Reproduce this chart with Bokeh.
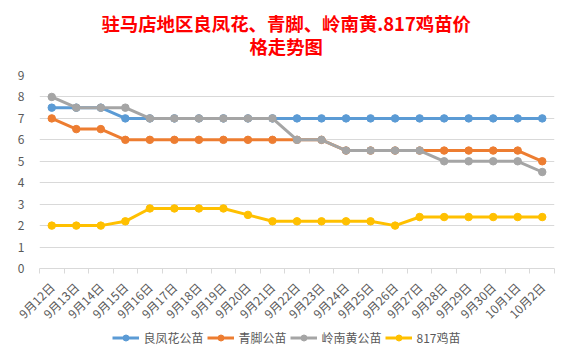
from math import pi
from bokeh.plotting import figure
from bokeh.layouts import column
from bokeh.models import FixedTicker, Legend, LegendItem, Range1d, Label
from bokeh.embed import file_html
from bokeh.resources import INLINE

# ---- data ----
dates = ["9月12日", "9月13日", "9月14日", "9月15日", "9月16日", "9月17日", "9月18日",
         "9月19日", "9月20日", "9月21日", "9月22日", "9月23日", "9月24日", "9月25日",
         "9月26日", "9月27日", "9月28日", "9月29日", "9月30日", "10月1日", "10月2日"]
liangfenghua = [7.5, 7.5, 7.5, 7, 7, 7, 7, 7, 7, 7, 7, 7, 7, 7, 7, 7, 7, 7, 7, 7, 7]
qingjiao = [7, 6.5, 6.5, 6, 6, 6, 6, 6, 6, 6, 6, 6, 5.5, 5.5, 5.5, 5.5, 5.5, 5.5, 5.5, 5.5, 5]
lingnanhuang = [8, 7.5, 7.5, 7.5, 7, 7, 7, 7, 7, 7, 6, 6, 5.5, 5.5, 5.5, 5.5, 5, 5, 5, 5, 4.5]
chick817 = [2, 2, 2, 2.2, 2.8, 2.8, 2.8, 2.8, 2.5, 2.2, 2.2, 2.2, 2.2, 2.2, 2, 2.4, 2.4, 2.4, 2.4, 2.4, 2.4]
series_names = ["良凤花公苗", "青脚公苗", "岭南黄公苗", "817鸡苗"]
series_colors = ["#5B9BD5", "#ED7D31", "#A5A5A5", "#FFC000"]
y_ticks = [0, 1, 2, 3, 4, 5, 6, 7, 8, 9]
title_lines = ["驻马店地区良凤花、青脚、岭南黄.817鸡苗价", "格走势图"]

x = list(range(len(dates)))
all_series = [liangfenghua, qingjiao, lingnanhuang, chick817]
FONT = "Noto Sans CJK SC"
GRAY_TXT = "#595959"
GRID = "#D9D9D9"
W = 572
LEFT, RIGHT = 39, 18


def strip(height, xr, yr):
    f = figure(width=W, height=height, output_backend="svg", toolbar_location=None,
               x_range=xr, y_range=yr, min_border_left=LEFT, min_border_right=RIGHT,
               min_border_top=0, min_border_bottom=0)
    f.axis.visible = False
    f.grid.visible = False
    f.outline_line_color = None
    f.border_fill_color = "white"
    f.background_fill_color = "white"
    f.title.visible = False
    return f

# ---- title strip (pixel-mapped ranges) ----
p0 = strip(67, Range1d(LEFT, W - RIGHT), Range1d(0, 67))
for txt, yc in zip(title_lines, [44.5, 22.0]):
    p0.add_layout(Label(x=285.7, y=yc, text=txt, text_align="center",
                        text_baseline="middle", text_font=FONT,
                        text_font_style="bold", text_font_size="18.4px",
                        text_color="#FF0000"))

# ---- main chart ----
p = figure(width=W, height=263, output_backend="svg", toolbar_location=None,
           x_range=Range1d(-0.5, len(dates) - 0.5), y_range=Range1d(0, 9),
           min_border_left=LEFT, min_border_right=RIGHT, min_border_top=8,
           min_border_bottom=61)
p.title.visible = False
p.outline_line_color = None
p.background_fill_color = "white"
p.border_fill_color = "white"

p.xgrid.visible = False
p.ygrid.grid_line_color = GRID
p.ygrid.grid_line_width = 1

p.yaxis.ticker = FixedTicker(ticks=y_ticks)
p.yaxis.axis_line_color = None
p.yaxis.major_tick_line_color = None
p.yaxis.minor_tick_line_color = None
p.yaxis.major_label_text_color = GRAY_TXT
p.yaxis.major_label_text_font = FONT
p.yaxis.major_label_text_font_size = "12px"
p.yaxis.major_label_standoff = 9

p.xaxis.ticker = FixedTicker(ticks=x, minor_ticks=[i - 0.5 for i in range(len(dates) + 1)])
p.xaxis.major_label_overrides = {i: d for i, d in zip(x, dates)}
p.xaxis.major_tick_in = 0
p.xaxis.major_tick_out = 0
p.xaxis.minor_tick_in = 0
p.xaxis.minor_tick_out = 5
p.xaxis.minor_tick_line_color = GRID
p.xaxis.axis_line_color = GRID
p.xaxis.major_label_orientation = pi / 4
p.xaxis.major_label_text_color = GRAY_TXT
p.xaxis.major_label_text_font = FONT
p.xaxis.major_label_text_font_size = "12px"
p.xaxis.major_label_standoff = 11

for vals, col in zip(all_series, series_colors):
    p.line(x, vals, line_color=col, line_width=3)
    p.scatter(x, vals, marker="circle", size=7.5, fill_color=col, line_color=col)

# ---- legend strip; its renderers repeat the series outside the visible range ----
p2 = strip(31, Range1d(-60, -50), Range1d(-60, -50))
items = []
for name, vals, col in zip(series_names, all_series, series_colors):
    l = p2.line(x, vals, line_color=col, line_width=3)
    s = p2.scatter(x, vals, marker="circle", size=7.5, fill_color=col, line_color=col)
    items.append(LegendItem(label=name, renderers=[l, s]))
legend = Legend(items=items, orientation="horizontal", location=(72.5, 15.5),
                glyph_width=27, glyph_height=15, label_standoff=5, spacing=3,
                padding=0, margin=0, border_line_color=None, background_fill_alpha=0,
                label_text_font=FONT, label_text_font_size="12px",
                label_text_color=GRAY_TXT)
p2.add_layout(legend)

layout = column(p0, p, p2, spacing=0)
open("out.html", "w").write(file_html(layout, INLINE))
